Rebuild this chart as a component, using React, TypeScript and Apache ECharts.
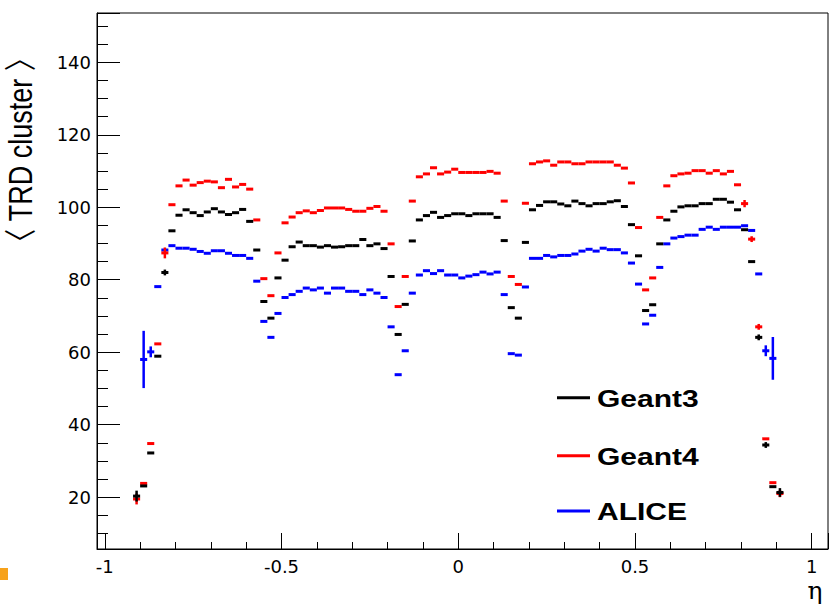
import React, { useEffect, useRef } from "react";
import * as echarts from "echarts";

// eta bin centres (bin width 0.02)
const etaBins: number[] = [
  -0.91, -0.89, -0.87, -0.85, -0.83, -0.81, -0.79, -0.77, -0.75, -0.73,
  -0.71, -0.69, -0.67, -0.65, -0.63, -0.61, -0.59, -0.57, -0.55, -0.53,
  -0.51, -0.49, -0.47, -0.45, -0.43, -0.41, -0.39, -0.37, -0.35, -0.33,
  -0.31, -0.29, -0.27, -0.25, -0.23, -0.21, -0.19, -0.17, -0.15, -0.13,
  -0.11, -0.09, -0.07, -0.05, -0.03, -0.01,
  0.01, 0.03, 0.05, 0.07, 0.09, 0.11, 0.13, 0.15, 0.17, 0.19,
  0.21, 0.23, 0.25, 0.27, 0.29, 0.31, 0.33, 0.35, 0.37, 0.39,
  0.41, 0.43, 0.45, 0.47, 0.49, 0.51, 0.53, 0.55, 0.57, 0.59,
  0.61, 0.63, 0.65, 0.67, 0.69, 0.71, 0.73, 0.75, 0.77, 0.79,
  0.81, 0.83, 0.85, 0.87, 0.89, 0.91,
];
const HALF_BIN = 0.01;

const geant3: (number | null)[] = [
  20.3, 23.1, 32.2, 58.9, 82.0, 93.5, 97.8, 99.3, 98.5, 97.7,
  98.7, 99.6, 98.7, 98.0, 98.5, 99.4, 96.1, 88.2, 74.0, 69.4,
  80.5, 85.4, 89.1, 90.4, 89.4, 89.4, 89.0, 89.4, 89.0, 89.1,
  89.4, 89.4, 91.1, 89.4, 89.9, 88.6, 80.9, 64.9, 73.2, 90.7,
  96.5, 97.7, 98.6, 97.2, 97.7, 98.2,
  98.2, 97.7, 98.2, 98.2, 98.2, 97.2, 90.8, 72.3, 69.4, 90.3,
  99.3, 100.5, 101.5, 101.5, 100.9, 100.4, 101.7, 101.0, 100.4, 101.0,
  101.0, 101.5, 101.8, 100.2, 95.2, 86.6, 71.5, 73.1, 89.9, 96.5,
  98.9, 100.1, 100.4, 100.4, 101.0, 101.0, 102.2, 102.2, 101.4, 99.3,
  93.8, 85.0, 64.1, 34.4, 22.9, 21.3,
];
const geant4: (number | null)[] = [
  19.5, 23.8, 34.8, 62.3, 87.4, 100.7, 105.9, 107.5, 106.1, 106.8,
  107.2, 107.0, 105.4, 107.7, 105.6, 106.3, 105.0, 96.5, 80.3, 75.6,
  87.4, 95.7, 97.3, 98.5, 99.0, 98.5, 99.1, 99.8, 99.8, 99.8,
  99.4, 98.9, 98.9, 99.7, 100.2, 98.9, 89.9, 72.6, 80.9, 101.7,
  108.4, 109.2, 110.9, 109.2, 109.7, 110.5,
  109.6, 109.6, 109.6, 109.6, 109.9, 109.4, 101.7, 80.9, 78.7, 101.1,
  112.0, 112.5, 112.8, 111.6, 112.5, 112.5, 112.0, 112.0, 112.5, 112.5,
  112.5, 112.5, 111.6, 110.8, 106.7, 94.4, 77.2, 80.5, 97.2, 105.9,
  108.7, 109.2, 109.4, 110.1, 110.1, 109.4, 110.1, 109.2, 109.9, 106.2,
  101.0, 91.2, 67.0, 36.1, 24.0, 21.0,
];
const alice: (number | null)[] = [
  null, 58.0, 60.1, 78.1, 88.2, 89.4, 88.7, 88.7, 88.4, 87.8,
  87.3, 88.0, 88.0, 87.3, 86.7, 86.7, 85.9, 79.6, 68.5, 64.1,
  70.7, 75.1, 75.9, 76.8, 77.7, 77.2, 77.7, 76.3, 77.7, 77.7,
  76.8, 76.8, 75.9, 77.2, 76.3, 75.1, 67.0, 53.8, 60.4, 76.3,
  81.3, 82.5, 81.7, 82.5, 81.3, 81.3,
  80.5, 81.0, 81.4, 82.1, 81.6, 82.1, 75.9, 59.6, 59.2, 78.0,
  85.9, 85.9, 86.7, 86.3, 86.7, 86.7, 87.1, 87.9, 88.4, 87.9,
  88.7, 88.3, 88.3, 87.4, 84.6, 78.8, 67.8, 70.2, 83.4, 89.9,
  91.5, 91.9, 92.3, 92.3, 93.9, 94.5, 93.9, 94.5, 94.5, 94.5,
  94.9, 93.6, 81.6, 60.4, 58.3, null,
];

// visible vertical error bars: [eta, error]
const geant3Err: [number, number][] = [[-0.91, 1.5], [-0.83, 0.8], [0.85, 0.8], [0.87, 0.8], [0.91, 1.2]];
const geant4Err: [number, number][] = [[-0.91, 1.5], [-0.83, 1.5], [0.81, 1.0], [0.83, 0.8], [0.85, 0.8], [0.91, 1.0]];
const aliceErr: [number, number][] = [[-0.89, 7.9], [-0.87, 1.5], [0.87, 1.5], [0.89, 5.9]];

const seriesNames = ["Geant3", "Geant4", "ALICE"];
const seriesColors = ["#000000", "#ff0000", "#0000ff"];

const yTitle = "〈 TRD cluster 〉";
const xTitle = "η";

function buildData(vals: (number | null)[], errs: [number, number][]) {
  const out: number[][] = [];
  etaBins.forEach((eta, i) => {
    const v = vals[i];
    if (v === null || v === undefined) return;
    const e = errs.find((p) => Math.abs(p[0] - eta) < 1e-6);
    out.push([eta, v, e ? e[1] : 0]);
  });
  return out;
}

function makeSeries(name: string, color: string, data: number[][]) {
  return {
    type: "custom",
    name,
    data,
    encode: { x: 0, y: 1 },
    clip: true,
    renderItem: (_params: any, api: any) => {
      const x = api.value(0);
      const y = api.value(1);
      const e = api.value(2);
      const a = api.coord([x - HALF_BIN, y]);
      const b = api.coord([x + HALF_BIN, y]);
      const children: any[] = [
        {
          type: "line",
          shape: { x1: a[0], y1: a[1], x2: b[0], y2: b[1] },
          style: { stroke: color, lineWidth: 3 },
        },
      ];
      if (e > 0) {
        const lo = api.coord([x, y - e]);
        const hi = api.coord([x, y + e]);
        children.push({
          type: "line",
          shape: { x1: lo[0], y1: lo[1], x2: hi[0], y2: hi[1] },
          style: { stroke: color, lineWidth: 2.5 },
        });
      }
      return { type: "group", children };
    },
  };
}

export default function App() {
  const ref = useRef<HTMLDivElement>(null);
  useEffect(() => {
    document.body.style.margin = "0";
    if (!ref.current) return;
    const chart = echarts.init(ref.current, undefined, { renderer: "svg" });
    const tickFont = { fontFamily: "DejaVu Sans", fontSize: 18, color: "#000" };
    const legendRows = [397.7, 455.7, 511];
    const legendGraphics: any[] = [];
    seriesNames.forEach((n, i) => {
      legendGraphics.push({
        type: "line",
        shape: { x1: 557, y1: legendRows[i], x2: 590, y2: legendRows[i] },
        style: { stroke: seriesColors[i], lineWidth: 3 },
      });
      legendGraphics.push({
        type: "text",
        x: 597,
        y: legendRows[i] + 1,
        scaleX: 1.25,
        style: {
          text: n,
          fontFamily: "Liberation Sans",
          fontWeight: "bold",
          fontSize: 24,
          fill: "#000",
          textAlign: "left",
          textVerticalAlign: "middle",
        },
      });
    });
    chart.setOption({
      animation: false,
      backgroundColor: "#ffffff",
      grid: {
        left: 97,
        top: 13,
        right: 4,
        bottom: 60,
        show: true,
        borderColor: "#000",
        borderWidth: 1,
        backgroundColor: "transparent",
      },
      xAxis: {
        type: "value",
        min: -1.022,
        max: 1.046,
        splitNumber: 4,
        axisLine: { show: true, onZero: false, lineStyle: { color: "#000", width: 1 } },
        axisTick: { show: true, inside: true, length: 16, lineStyle: { color: "#000", width: 1 } },
        minorTick: { show: true, splitNumber: 5, length: 7, lineStyle: { color: "#000", width: 1 } },
        splitLine: { show: false },
        minorSplitLine: { show: false },
        axisLabel: { ...tickFont, margin: 8, showMinLabel: false, showMaxLabel: false },
      },
      yAxis: {
        type: "value",
        min: 5.7,
        max: 153.6,
        splitNumber: 7,
        axisLine: { show: true, onZero: false, lineStyle: { color: "#000", width: 1 } },
        axisTick: { show: true, inside: true, length: 23, lineStyle: { color: "#000", width: 1 } },
        minorTick: { show: true, splitNumber: 4, length: 11, lineStyle: { color: "#000", width: 1 } },
        splitLine: { show: false },
        minorSplitLine: { show: false },
        axisLabel: { ...tickFont, margin: 6, showMinLabel: false, showMaxLabel: false },
      },
      series: [
        makeSeries(seriesNames[2], seriesColors[2], buildData(alice, aliceErr)),
        makeSeries(seriesNames[1], seriesColors[1], buildData(geant4, geant4Err)),
        makeSeries(seriesNames[0], seriesColors[0], buildData(geant3, geant3Err)),
      ],
      graphic: [
        {
          type: "text",
          x: 21,
          y: 150,
          rotation: Math.PI / 2,
          scaleY: 1.2,
          style: {
            text: yTitle,
            fontFamily: "Liberation Sans, Noto Sans CJK SC",
            fontSize: 27,
            fill: "#000",
            textAlign: "center",
            textVerticalAlign: "middle",
          },
        },
        {
          type: "text",
          x: 815,
          y: 590,
          style: {
            text: xTitle,
            fontFamily: "DejaVu Serif",
            fontSize: 25,
            fill: "#000",
            textAlign: "center",
            textVerticalAlign: "middle",
          },
        },
        {
          type: "rect",
          shape: { x: 0, y: 568, width: 8, height: 12 },
          style: { fill: "#f7a21b" },
        },
        ...legendGraphics,
      ],
    });
    return () => chart.dispose();
  }, []);
  return <div ref={ref} style={{ width: 832, height: 609 }} />;
}
